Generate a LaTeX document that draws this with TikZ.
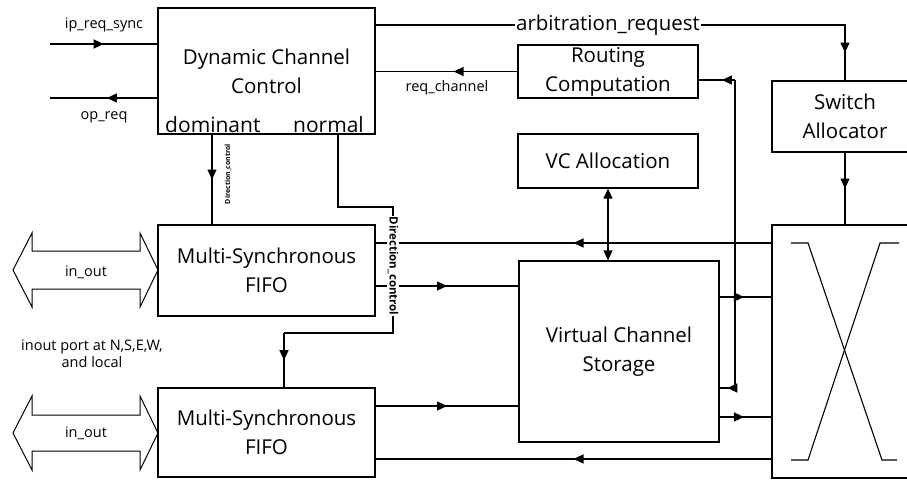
\documentclass[tikz,border=0pt]{standalone}
\usepackage{fontspec}
\setmainfont{Open Sans}
\usetikzlibrary{arrows.meta,decorations.markings,calc}
\tikzset{
  box/.style={draw, line width=1.2pt, inner sep=0pt, align=center, font=\fontsize{20.5}{29}\selectfont},
  wire/.style={line width=1.2pt},
  midarrow/.style={postaction={decorate},decoration={markings,mark=at position #1 with {\arrow{Triangle[length=10pt,width=9pt]}}}},
  small/.style={font=\fontsize{14.5}{17}\selectfont, align=center},
  tinylbl/.style={font=\fontsize{#1}{#1}\selectfont\bfseries, inner sep=0.5pt},
  mid/.style={font=\fontsize{21}{29}\selectfont, inner sep=0pt},
  inoutarrow/.style={draw, line width=1pt},
}
\begin{document}
\begin{tikzpicture}[x=1pt,y=-1pt]
\clip (0,0) rectangle (907,479);
\fill[white] (0,0) rectangle (907,479);

% boxes
\node[box, minimum width=217pt, minimum height=126pt] (dcc) at (266.5,71) {Dynamic Channel\\Control};
\node[mid, anchor=base west] (dom) at (165,132) {dominant};
\node[mid, anchor=base east] (nor) at (364,132) {normal};
\node[box, minimum width=180pt, minimum height=53pt] (rc) at (608,71.5) {Routing\\Computation};
\node[box, minimum width=180pt, minimum height=54pt] (vca) at (608,161) {VC Allocation};
\node[box, minimum width=146pt, minimum height=71pt] (sa) at (845,116.5) {Switch\\Allocator};
\node[box, minimum width=146pt, minimum height=253pt] (xb) at (845,351.5) {};
\node[box, minimum width=200pt, minimum height=181pt] (vcs) at (619,351.5) {Virtual Channel\\Storage};
\node[box, minimum width=217pt, minimum height=91pt] (f1) at (266.5,270.5) {Multi-Synchronous\\FIFO};
\node[box, minimum width=217pt, minimum height=89pt] (f2) at (266.5,432.5) {Multi-Synchronous\\FIFO};

% ip_req_sync / op_req
\coordinate (ipin) at (50,44);
\coordinate (opout) at (50,98);
\draw[wire, midarrow=0.5] (ipin) -- (ipin -| dcc.west);
\draw[wire, midarrow=0.47] (opout -| dcc.west) -- (opout);
\node[small] (lip) at (104,25) {ip\_req\_sync};
\node[small] (lop) at (104,117) {op\_req};

% arbitration request
\coordinate (arbT) at (845,25);
\draw[wire, midarrow=497pt] (arbT -| dcc.east) -- (arbT) -- (sa.north);
\node[fill=white, font=\fontsize{20.5}{20.5}\selectfont, inner sep=1.5pt] (larb) at (608,25) {arbitration\_request};

% req_channel
\draw[wire, midarrow=0.45] (rc.west) -- (rc.west -| dcc.east);
\node[small] (lreq) at (447,88) {req\_channel};

% feedback to routing computation and VC storage
\coordinate (fbT) at (735,80);
\coordinate (fbB) at (735,388);
\draw[wire, midarrow=0.36] (fbT) -- (fbT -| rc.east);
\draw[wire] (fbT) -- (fbB);
\draw[wire, midarrow=0.5] (fbB) -- (fbB -| vcs.east);

% VC allocation <-> storage
\draw[wire, {Triangle[length=10pt,width=9pt]}-{Triangle[length=10pt,width=9pt]}] (vca.south) -- (vca.south |- vcs.north);

% switch allocator -> crossbar
\draw[wire, midarrow=0.5] (sa.south) -- (xb.north);

% data lines
\coordinate (l1) at (0,243);
\coordinate (l2) at (0,286);
\coordinate (l3) at (0,297);
\coordinate (l4) at (0,406);
\coordinate (l5) at (0,417);
\coordinate (l6) at (0,459);
\draw[wire, midarrow=0.5] (xb.west |- l1) -- (f1.east |- l1);
\draw[wire, midarrow=0.5] (f1.east |- l2) -- (vcs.west |- l2);
\draw[wire, midarrow=0.5] (f2.east |- l4) -- (vcs.west |- l4);
\draw[wire, midarrow=0.5] (xb.west |- l6) -- (f2.east |- l6);
\draw[wire, midarrow=0.47] (vcs.east |- l3) -- (xb.west |- l3);
\draw[wire, midarrow=0.47] (vcs.east |- l5) -- (xb.west |- l5);

% dominant direction control
\coordinate (dm) at (212,0);
\draw[wire, midarrow=0.5] (dcc.south -| dm) -- (f1.north -| dm);
\node[tinylbl=7, rotate=90] (ldom) at (228,174) {Direction\_control};

% normal direction control
\coordinate (n1) at (338,207);
\coordinate (n2) at (393,207);
\coordinate (n3) at (393,333);
\coordinate (n4) at (284,333);
\draw[wire] (dcc.south -| n1) -- (n1) -- (n2) -- (n3) -- (n4);
\draw[wire, midarrow=0.5] (n4) -- (f2.north -| n4);
\node[tinylbl=11.5, rotate=-90, fill=white] (lnor) at (393,266) {Direction\_control};

% crossbar X
\draw[line width=1.1pt] (791,243) -- (808,243) -- (882,460) -- (897,460);
\draw[line width=1.1pt] (899,243) -- (880,243) -- (808,460) -- (791,460);

% in_out arrows
\draw[inoutarrow] (13,270) -- (32,233) -- (32,251) -- (140,251) -- (140,233) -- (158,270)
  -- (140,307) -- (140,289) -- (32,289) -- (32,307) -- cycle;
\node[small] (io1) at (86,272) {in\_out};
\draw[inoutarrow] (13,433) -- (32,396) -- (32,415) -- (140,415) -- (140,396) -- (158,433)
  -- (140,470) -- (140,451) -- (32,451) -- (32,470) -- cycle;
\node[small] (io2) at (86,433) {in\_out};

\node[small] (lport) at (92,354) {inout port at N,S,E,W,\\and local};
\end{tikzpicture}
\end{document}
